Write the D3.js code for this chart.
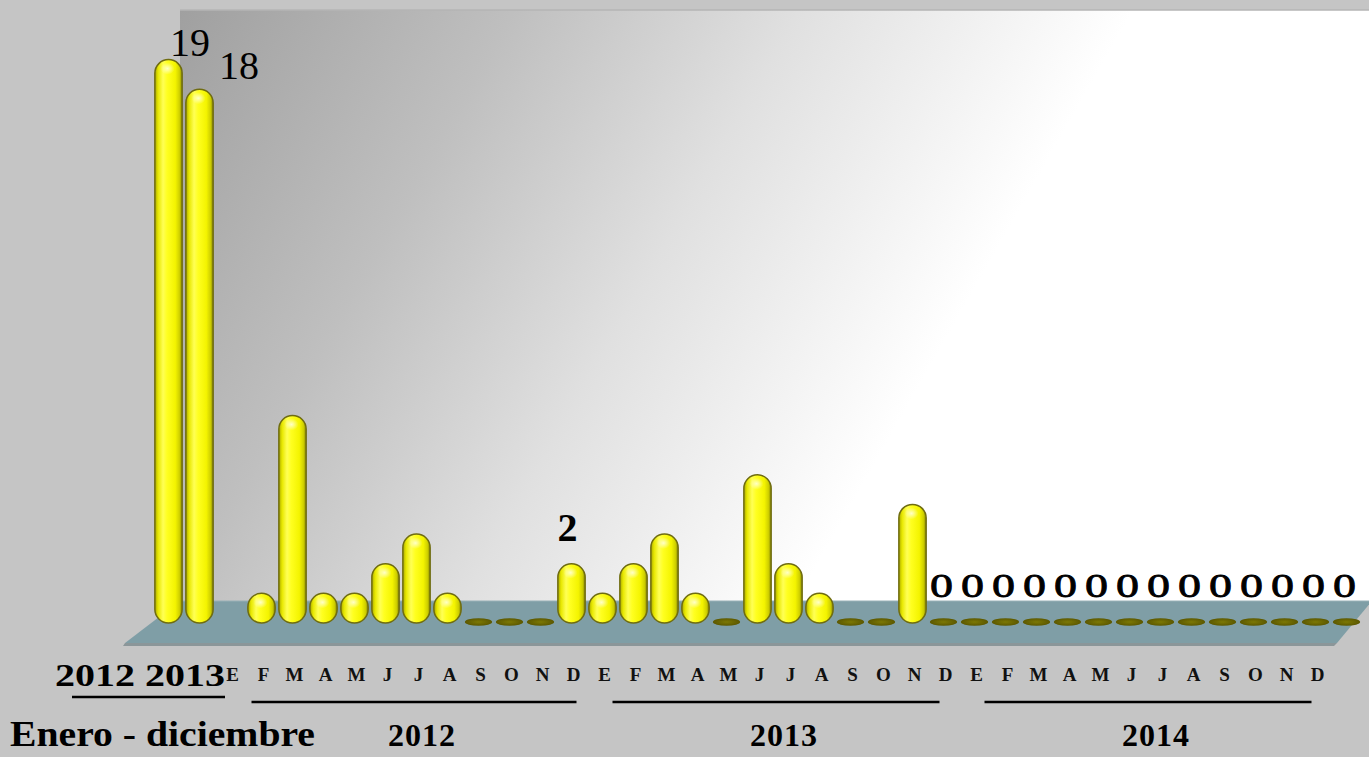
<!DOCTYPE html>
<html><head><meta charset="utf-8">
<script src="https://cdn.jsdelivr.net/npm/d3@7"></script>
<style>
html,body{margin:0;padding:0;background:#c5c5c5;}
svg{display:block;}
.ser{font-family:"Liberation Serif","DejaVu Serif",serif;}
</style></head><body>
<svg id="chart" width="1369" height="757"></svg>
<script>
// ---------------- data ----------------
const summaryCategories = ["2012", "2013"];
const summaryValues = [19, 18];
const monthLabels = ["E","F","M","A","M","J","J","A","S","O","N","D"];
const years = ["2012", "2013", "2014"];
const values2012 = [1, 7, 1, 1, 2, 3, 1, 0, 0, 0, 2, 1];
const values2013 = [2, 3, 1, 0, 5, 2, 1, 0, 0, 4, 0, 0];
const values2014 = [0, 0, 0, 0, 0, 0, 0, 0, 0, 0, 0, 0];
const labeledMonths2012 = [10];
const labeledMonths2013 = [10, 11];
const labeledMonths2014 = [0, 1, 2, 3, 4, 5, 6, 7, 8, 9, 10, 11];
const axisTitle = "Enero - diciembre";

// ---------------- rows ----------------
const yearValues = [values2012, values2013, values2014];
const yearLabeled = [labeledMonths2012, labeledMonths2013, labeledMonths2014];
const rows = [];
summaryCategories.forEach((c, i) => rows.push({key: "S" + c, value: summaryValues[i], label: true, summary: true, cat: c}));
rows.push({key: "gap", value: null});
years.forEach((yr, yi) => {
  monthLabels.forEach((m, mi) => {
    rows.push({key: yr + "-" + mi, value: yearValues[yi][mi], label: yearLabeled[yi].includes(mi), month: m, year: yr, mi});
  });
});

const svg = d3.select("#chart");
const W = 1369, H = 757;
const defs = svg.append("defs");

const x = d3.scaleBand().domain(rows.map(d => d.key)).range([153, 1362]).padding(0);
const y = d3.scaleLinear().domain([0, 19]).range([623, 59.6]);
const bw = x.bandwidth();
const barW = bw * 0.88;
const cx = k => x(k) + bw / 2;
const depth = 29; // label shift toward viewer

// gradients
const wallG = defs.append("linearGradient").attr("id", "wallG")
  .attr("gradientUnits", "userSpaceOnUse").attr("x1", 180).attr("y1", 10).attr("x2", 900).attr("y2", 420);
[[0, "#a0a0a0"], [0.35, "#bfbfbf"], [0.65, "#e0e0e0"], [1, "#ffffff"]].forEach(s =>
  wallG.append("stop").attr("offset", s[0]).attr("stop-color", s[1]));

const cyl = defs.append("linearGradient").attr("id", "cyl").attr("x1", 0).attr("x2", 1).attr("y1", 0).attr("y2", 0);
[[0, "#a8a800"], [0.12, "#e8e800"], [0.3, "#ffff55"], [0.45, "#ffff20"], [0.75, "#f4f400"], [0.9, "#d0d000"], [1, "#8a8a00"]].forEach(s =>
  cyl.append("stop").attr("offset", s[0]).attr("stop-color", s[1]));

const hl = defs.append("radialGradient").attr("id", "hl");
hl.append("stop").attr("offset", 0).attr("stop-color", "#ffffff").attr("stop-opacity", 0.75);
hl.append("stop").attr("offset", 1).attr("stop-color", "#ffffff").attr("stop-opacity", 0);

const zeroG = defs.append("radialGradient").attr("id", "zeroG");
zeroG.append("stop").attr("offset", 0).attr("stop-color", "#7c7804");
zeroG.append("stop").attr("offset", 1).attr("stop-color", "#5c5800");

// background
svg.append("rect").attr("width", W).attr("height", H).attr("fill", "#c5c5c5");
// back wall
svg.append("rect").attr("x", 180).attr("y", 10).attr("width", W - 180).attr("height", 592).attr("fill", "url(#wallG)");
svg.append("line").attr("x1", 180).attr("x2", W).attr("y1", 10).attr("y2", 10).attr("stroke", "#b4b4b4").attr("stroke-width", 1.5);

// floor
const fBackY = 601, fFrontY = 643;
svg.append("path")
  .attr("d", `M180,${fBackY} L1372,${fBackY} L1337,${fFrontY} L125,${fFrontY} Z`)
  .attr("fill", "#7f9ea6");
svg.append("path")
  .attr("d", `M125,${fFrontY} L1337,${fFrontY} L1334,${fFrontY + 3} L123,${fFrontY + 3} Z`)
  .attr("fill", "#8b9699");
svg.append("line").attr("x1", 180).attr("x2", 1372).attr("y1", fBackY).attr("y2", fBackY)
  .attr("stroke", "#98b0b6").attr("stroke-width", 1);

// zero markers
const g = svg.append("g");
g.selectAll("ellipse.zero").data(rows.filter(d => d.value === 0)).join("ellipse")
  .attr("class", "zero")
  .attr("cx", d => cx(d.key)).attr("cy", y(0) - 1)
  .attr("rx", barW / 2).attr("ry", 3.8)
  .attr("fill", "url(#zeroG)");

// bars
const pos = rows.filter(d => d.value > 0);
g.selectAll("rect.bar").data(pos).join("rect")
  .attr("class", "bar")
  .attr("x", d => cx(d.key) - barW / 2)
  .attr("y", d => y(d.value))
  .attr("width", barW)
  .attr("height", d => y(0) - y(d.value))
  .attr("rx", barW / 2).attr("ry", barW / 2)
  .attr("fill", "url(#cyl)")
  .attr("stroke", "#6f6c10").attr("stroke-width", 1.5);
g.selectAll("ellipse.hl").data(pos).join("ellipse")
  .attr("class", "hl")
  .attr("cx", d => cx(d.key) - 1).attr("cy", d => y(d.value) + 9)
  .attr("rx", 7).attr("ry", 6)
  .attr("fill", "url(#hl)");

// data labels
const labelOffset = {"S2012": [21.5, 4, 40], "S2013": [39.5, 10, 40], "2012-10": [-4, 23, 40]};
const dl = svg.selectAll("text.dl").data(rows.filter(d => d.label)).join("text")
  .attr("class", "dl ser")
  .attr("x", d => cx(d.key) + (labelOffset[d.key] ? labelOffset[d.key][0] : -2))
  .attr("y", d => y(d.value) - (labelOffset[d.key] ? labelOffset[d.key][1] : 26))
  .attr("text-anchor", "middle")
  .attr("font-size", d => labelOffset[d.key] ? labelOffset[d.key][2] : 34)
  .attr("font-weight", d => d.key === "2012-10" ? 700 : 400)
  .attr("stroke", d => d.value === 0 ? "#000" : "none")
  .attr("stroke-width", 0.8)
  .attr("fill", "#000")
  .text(d => d.value);
dl.filter(d => d.value === 0)
  .attr("textLength", 23).attr("lengthAdjust", "spacingAndGlyphs");

// category labels: summary
svg.append("text").attr("class", "ser")
  .attr("x", 55).attr("y", 686)
  .attr("font-size", 32).attr("font-weight", 700)
  .attr("textLength", 170).attr("lengthAdjust", "spacingAndGlyphs")
  .text(summaryCategories.join(" "));
svg.append("line").attr("x1", 72).attr("x2", 225).attr("y1", 697).attr("y2", 697)
  .attr("stroke", "#000").attr("stroke-width", 2.5);

// month labels
const monthRows = rows.filter(d => d.month);
svg.selectAll("text.m").data(monthRows).join("text")
  .attr("class", "m ser")
  .attr("x", d => cx(d.key) - depth)
  .attr("y", 681)
  .attr("text-anchor", "middle")
  .attr("font-size", 19).attr("font-weight", 700)
  .attr("fill", "#111")
  .text(d => d.month);

// year underlines and labels
years.forEach((yr, yi) => {
  const x0 = cx(yr + "-0") - depth + (yi === 0 ? 19 : 8);
  const x1 = cx(yr + "-11") - depth + (yi === 0 ? 3 : -6);
  svg.append("line").attr("x1", x0).attr("x2", x1).attr("y1", 702).attr("y2", 702)
    .attr("stroke", "#000").attr("stroke-width", 2.5);
  svg.append("text").attr("class", "ser")
    .attr("x", (x0 + x1) / 2 + 8).attr("y", 746).attr("text-anchor", "middle")
    .attr("font-size", 32).attr("font-weight", 700).attr("letter-spacing", 1)
    .text(yr);
});

svg.append("text").attr("class", "ser")
  .attr("x", 10).attr("y", 746)
  .attr("font-size", 36).attr("font-weight", 700)
  .attr("textLength", 305).attr("lengthAdjust", "spacingAndGlyphs")
  .text(axisTitle);
</script>
</body></html>
